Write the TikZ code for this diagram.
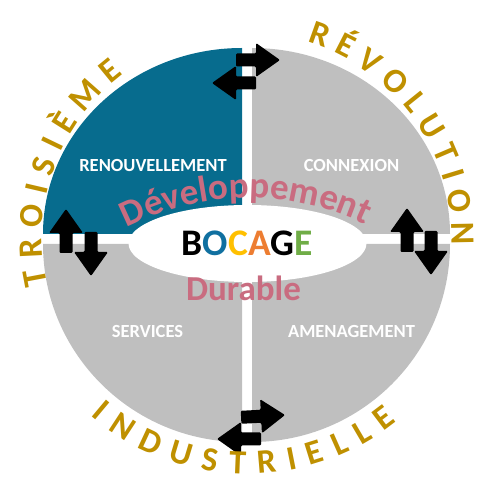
\documentclass[tikz,border=0pt]{standalone}
\usepackage{fontspec}
\setmainfont{Carlito}
\usetikzlibrary{decorations.text,shapes.geometric}
\definecolor{qblue}{RGB}{7,108,142}
\definecolor{qgray}{RGB}{191,191,191}
\definecolor{gold}{RGB}{191,144,0}
\definecolor{rose}{RGB}{201,108,128}
\definecolor{bO}{RGB}{16,112,160}
\definecolor{bC}{RGB}{255,192,0}
\definecolor{bA}{RGB}{237,125,49}
\definecolor{bE}{RGB}{112,173,71}
\newcommand{\blockarrow}[2]{%
  \fill[black, rounded corners=1.2pt, shift={#1}, rotate=#2]
    (0,0) -- (-24,-17) -- (-24,-6.5) -- (-44,-6.5) -- (-44,6.5) -- (-24,6.5) -- (-24,17) -- cycle;}
\newcommand{\outerfont}{\fontsize{34}{38}\selectfont\bfseries\color{gold}}
\newcommand{\rosefont}{\fontsize{37}{40}\selectfont\bfseries\color{rose}}
\tikzset{
  quadlabel/.style={text=white, font=\fontsize{18.5}{20}\selectfont\bfseries, inner sep=0pt},
  hubshape/.style={ellipse, fill=white, minimum width=238pt, minimum height=77pt, inner sep=0pt,
    font=\fontsize{37.5}{40}\selectfont\bfseries},
}
\begin{document}
\begin{tikzpicture}[x=1pt,y=1pt]
\useasboundingbox (0,0) rectangle (478,482);
% quadrants
\fill[qblue] (242,248) -- (43,248) arc[start angle=180,end angle=90,x radius=199,y radius=186] -- cycle;
\fill[qgray] (252,248) -- (252,434) arc[start angle=90,end angle=0,x radius=198,y radius=186] -- cycle;
\fill[qgray] (242,238) -- (43,238) arc[start angle=180,end angle=270,x radius=199,y radius=198] -- cycle;
\fill[qgray] (252,238) -- (450,238) arc[start angle=0,end angle=-90,x radius=198,y radius=198] -- cycle;
% labels
\node[quadlabel] (renouv) at (153,316) {RENOUVELLEMENT};
\node[quadlabel] (connex) at (351.5,316) {CONNEXION};
\node[quadlabel] (serv) at (147.5,151) {SERVICES};
\node[quadlabel] (amen) at (351.5,151) {AMENAGEMENT};
% hub
\node[hubshape] (hub) at (247.5,238.5) {{\color{black}B}{\color{bO}O}{\color{bC}C}{\color{bA}A}{\color{black}G}{\color{bE}E}};
% rose texts
\path[decorate, decoration={text along path, text={|\rosefont|Développement}, text align=fit to path}]
  (249,15) ++(117:269) arc[start angle=117, end angle=64.5, radius=269];
\node[anchor=base, text=rose, font=\fontsize{35}{38}\selectfont\bfseries, inner sep=0pt] (durable) at (243.5,181) {Durable};
% arrows
\blockarrow{(280,422)}{0}
\blockarrow{(212,399)}{180}
\blockarrow{(66,273)}{90}
\blockarrow{(91,206)}{-90}
\blockarrow{(407,274)}{90}
\blockarrow{(431,207)}{-90}
\blockarrow{(285,67)}{3}
\blockarrow{(217,43)}{180}
% outer ring text
\path[decorate, decoration={text along path, text={|\outerfont|TROISIÈME}, text align=fit to path}]
  (247,244) ++(193:205) arc[start angle=193, end angle=127, radius=205];
\path[decorate, decoration={text along path, text={|\outerfont|RÉVOLUTION}, text align=fit to path}]
  (247,244) ++(73:205) arc[start angle=73, end angle=-2, radius=205];
\path[decorate, decoration={text along path, text={|\outerfont|INDUSTRIELLE}, text align=fit to path}]
  (247,246) ++(229:238) arc[start angle=229, end angle=309, radius=238];
\end{tikzpicture}
\end{document}
